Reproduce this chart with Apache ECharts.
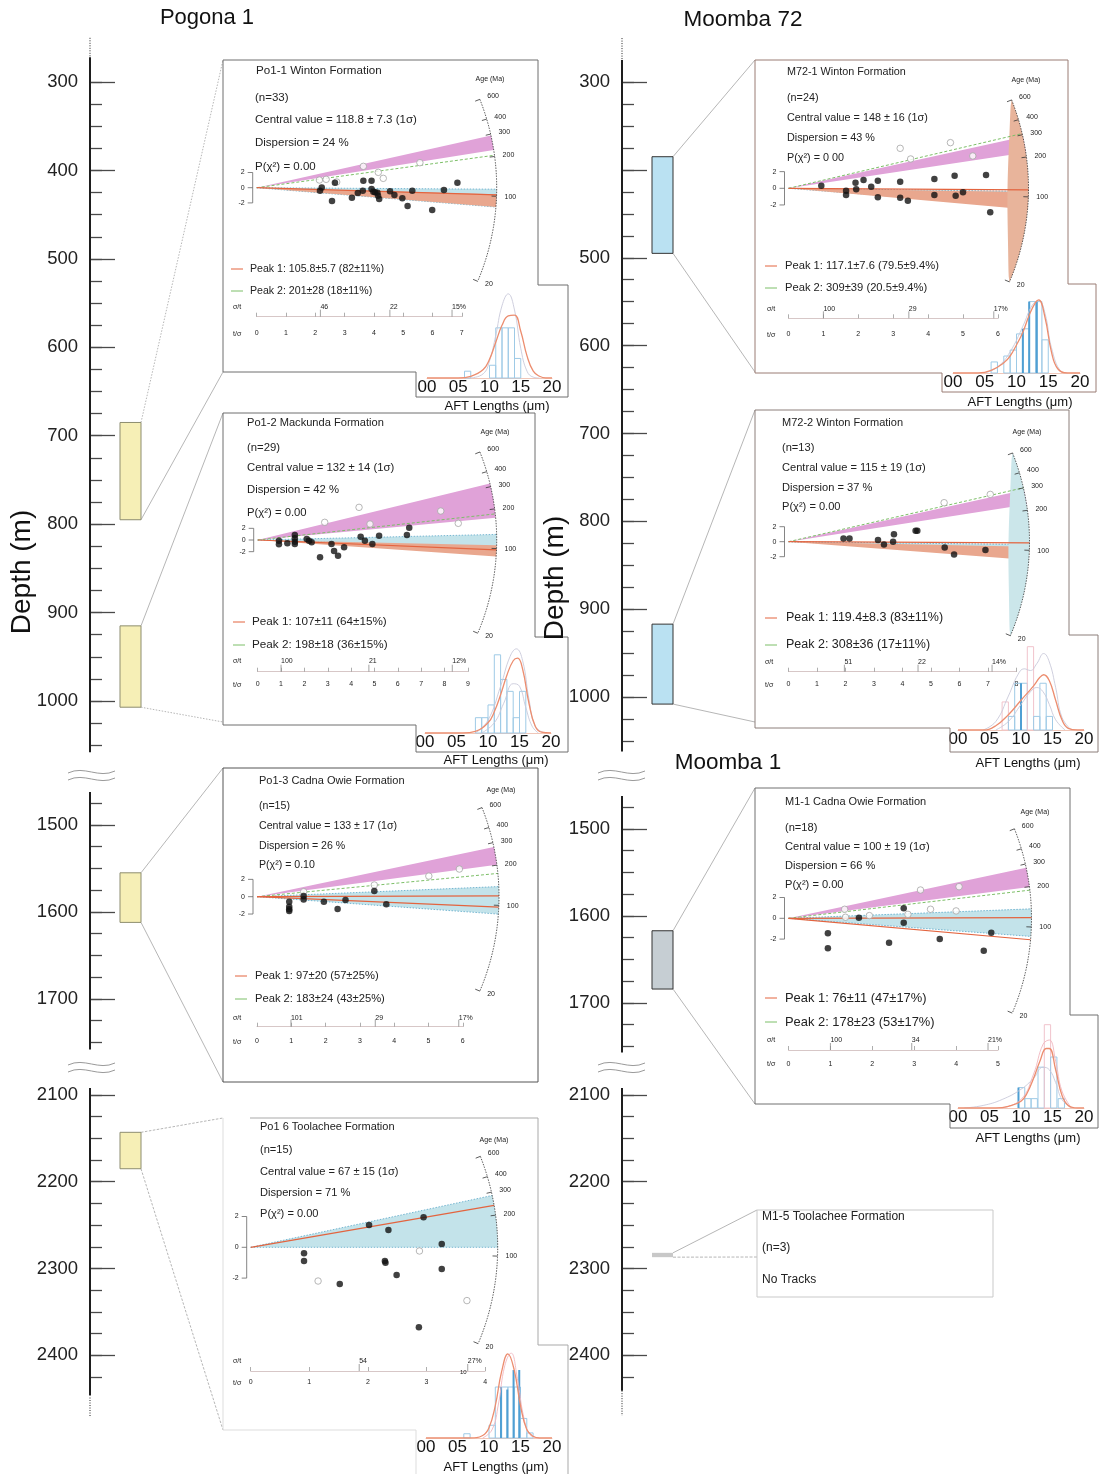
<!DOCTYPE html>
<html>
<head>
<meta charset="utf-8">
<title>AFT radial plots and depth columns</title>
<script src="https://cdn.jsdelivr.net/npm/echarts@6.0.0/dist/echarts.min.js"></script>
<style>
html,body{margin:0;padding:0;background:#ffffff;}
#chart{width:1102px;height:1474px;}
</style>
</head>
<body>
<div id="chart"></div>
<script>
// ======================= DATA =======================
const wellTitles = ['Pogona 1', 'Moomba 72', 'Moomba 1'];
const depthAxisName = 'Depth (m)';
const histAxisName = 'AFT Lengths (\u03bcm)';
const histTickLabels = ['00', '05', '10', '15', '20'];
const arcAgeLabels = [600, 400, 300, 200, 100, 20];

// depth ticks / labels
const depthTicksUpper = [300,325,350,375,400,425,450,475,500,525,550,575,600,625,650,675,700,725,750,775,800,825,850,875,900,925,950,975,1000,1025,1050];
const depthMajorUpper = [300,400,500,600,700,800,900,1000];
const depthLabelsPogonaUpper = [300,400,500,600,700,800,900,1000];
const depthLabelsMoombaUpper = [300,500,600,700,800,900,1000];
const depthTicksMiddle = [1475,1500,1525,1550,1575,1600,1625,1650,1675,1700,1725,1750];
const depthMajorMiddle = [1500,1600,1700];
const depthTicksLower = [2100,2125,2150,2175,2200,2225,2250,2275,2300,2325,2350,2375,2400,2425];
const depthMajorLower = [2100,2200,2300,2400];

// samples (depth intervals, m)
const pogonaSampleIds = ['Po1-1', 'Po1-2', 'Po1-3', 'Po1-6'];
const pogonaSampleTop = [685, 915, 1555, 2143];
const pogonaSampleBase = [795, 1007, 1612, 2185];
const moombaSampleIds = ['M72-1', 'M72-2', 'M1-1', 'M1-5'];
const moombaSampleTop = [385, 917, 1617, 2282];
const moombaSampleBase = [495, 1008, 1684, 2287];

// ---- Po1-1 ----
const po11Text = ['Po1-1 Winton Formation', '(n=33)', 'Central value = 118.8 \u00b1 7.3 (1\u03c3)', 'Dispersion = 24 %', 'P(\u03c7\u00b2) = 0.00'];
const po11Peaks = ['Peak 1: 105.8\u00b15.7 (82\u00b111%)', 'Peak 2: 201\u00b128 (18\u00b111%)'];
const po11Ref = 118.8;
const po11Pink = [219, 280];
const po11Blue = [87, 116];
const po11Orange = [87, 107];
const po11Green = 201;
const po11Red = [105.8];
const po11SigmaT = [46, 22, 15];
const po11Filled = [[2.16,-0.39],[2.22,0.04],[2.57,-1.75],[2.67,0.66],[3.25,-1.32],[3.45,-0.70],[3.62,-0.39],[3.64,0.92],[3.92,0.92],[3.92,-0.18],[3.98,-0.53],[4.04,-0.61],[4.12,-0.66],[4.14,-1.05],[4.18,-1.49],[4.55,-0.48],[4.70,-0.96],[4.97,-1.40],[5.15,-2.41],[5.31,-0.39],[5.99,-2.94],[6.39,-0.31],[6.85,0.66]];
const po11Open = [[2.14,1.01],[2.37,1.10],[2.73,0.75],[3.64,2.81],[4.15,2.02],[4.32,1.23],[5.57,3.29]];
const po11Bins = [[6,0.08,0],[10,0.15,0],[11,0.59,0],[12,0.59,0],[13,0.59,0],[14,0.23,0]];
const po11Strong = [];
const po11CurveA = [[0,0],[5,0],[7,0.02],[9,0.1],[10,0.22],[11,0.42],[12,0.62],[13,0.73],[14,0.74],[15,0.55],[16,0.26],[17,0.08],[18,0.02],[19,0],[20,0]];
const po11CurveB = [[7,0],[9,0.05],[10,0.2],[11,0.5],[12,0.85],[13,0.99],[14,0.8],[15,0.35],[16,0.08],[17,0.01],[18,0]];

// ---- Po1-2 ----
const po12Text = ['Po1-2 Mackunda Formation', '(n=29)', 'Central value = 132 \u00b1 14 (1\u03c3)', 'Dispersion = 42 %', 'P(\u03c7\u00b2) = 0.00'];
const po12Peaks = ['Peak 1: 107\u00b111 (64\u00b115%)', 'Peak 2: 198\u00b118 (36\u00b115%)'];
const po12Ref = 132;
const po12Pink = [192, 350];
const po12Blue = [116, 145];
const po12Orange = [100, 121];
const po12Green = 205;
const po12Red = [112];
const po12SigmaT = [100, 21, 12];
const po12Filled = [[0.91,-0.11],[0.91,-0.74],[1.27,-0.57],[1.59,0.86],[1.59,0.29],[1.59,-0.29],[1.59,-0.69],[2.10,0.17],[2.20,-0.11],[2.31,-0.40],[2.67,-2.97],[3.16,-0.69],[3.27,-1.89],[3.44,-2.69],[3.70,-1.26],[4.41,0.57],[4.59,-0.11],[4.91,-0.69],[5.20,0.74],[6.39,0.86],[6.49,2.11]];
const po12Open = [[2.87,3.03],[4.34,5.6],[4.81,2.74],[7.84,4.97],[8.59,2.86]];
const po12Bins = [[8,0.18,0],[9,0.18,0],[10,0.33,0],[11,0.92,0],[12,0.63,0],[13,0.49,0],[14,0.18,0],[15,0.49,0]];
const po12Strong = [];
const po12CurveA = [[0,0],[6,0],[8,0.02],[10,0.12],[11,0.25],[12,0.45],[13,0.68],[14,0.85],[14.7,0.88],[15.5,0.75],[16.5,0.35],[17.5,0.08],[18.5,0.01],[20,0]];
const po12CurveB = [[8,0],[10,0.15],[12,0.55],[13.5,0.9],[14.5,0.99],[15.5,0.85],[16.5,0.4],[17.5,0.08],[19,0]];
const po12CurveC = [[9,0],[11,0.12],[12.5,0.35],[14,0.58],[15,0.55],[16,0.3],[17,0.08],[18,0]];

// ---- Po1-3 ----
const po13Text = ['Po1-3 Cadna Owie Formation', '(n=15)', 'Central value = 133 \u00b1 17 (1\u03c3)', 'Dispersion = 26 %', 'P(\u03c7\u00b2) = 0.10'];
const po13Peaks = ['Peak 1: 97\u00b120 (57\u00b125%)', 'Peak 2: 183\u00b124 (43\u00b125%)'];
const po13Ref = 133;
const po13Pink = [225, 305];
const po13Blue = [100, 157];
const po13Green = 195;
const po13Red = [135, 112];
const po13SigmaT = [101, 29, 17];
const po13Filled = [[0.94,-0.58],[0.94,-1.15],[0.94,-1.46],[0.94,-1.65],[1.36,0.08],[1.36,-0.31],[1.95,-0.58],[2.35,-1.42],[2.58,-0.38],[3.42,0.65],[3.77,-0.88]];
const po13Open = [[1.36,0.58],[3.42,1.35],[5.01,2.38],[5.90,3.19]];

// ---- Po1-6 ----
const po16Text = ['Po1 6 Toolachee Formation', '(n=15)', 'Central value = 67 \u00b1 15 (1\u03c3)', 'Dispersion = 71 %', 'P(\u03c7\u00b2) = 0.00'];
const po16Ref = 121;
const po16Blue = [121, 274];
const po16Red = [233];
const po16SigmaT = [54, 27];
const po16Filled = [[0.91,-0.39],[0.91,-0.89],[1.52,-2.38],[2.02,1.45],[2.29,-0.89],[2.30,-1.0],[2.35,1.13],[2.49,-1.80],[2.95,1.95],[2.87,-5.19],[3.26,0.22],[3.26,-1.41]];
const po16Open = [[1.15,-2.19],[2.88,-0.24],[3.69,-3.46]];
const po16Bins = [[6,0.05,0],[10,0.15,0],[11,0.6,0],[12,0.6,0],[13,0.6,0],[14,0.6,0],[15,0.23,0],[16,0.06,0]];
const po16Strong = [[11.9,0.6],[12.9,0.57],[13.9,0.8],[14.8,0.8]];
const po16CurveA = [[0,0],[7,0],[9,0.03],[10,0.12],[11,0.38],[12,0.78],[13,0.99],[14,0.8],[15,0.38],[16,0.1],[17,0.02],[18,0],[20,0]];
const po16CurveB = [[9,0],[10.5,0.1],[11.5,0.4],[12.5,0.85],[13.5,1.0],[14.5,0.7],[15.5,0.25],[16.5,0.04],[18,0]];

// ---- M72-1 ----
const m721Text = ['M72-1 Winton Formation', '(n=24)', 'Central value = 148 \u00b1 16 (1\u03c3)', 'Dispersion = 43 %', 'P(\u03c7\u00b2) = 0 00'];
const m721Peaks = ['Peak 1: 117.1\u00b17.6 (79.5\u00b19.4%)', 'Peak 2: 309\u00b139 (20.5\u00b19.4%)'];
const m721Ref = 148;
const m721Pink = [279, 372];
const m721Blue = [107, 140];
const m721Orange = [102, 139];
const m721Green = 395;
const m721Red = [144];
const m721SigmaT = [100, 29, 17];
const m721Filled = [[0.94,0.32],[1.65,-0.28],[1.65,-0.8],[1.92,0.68],[1.94,-0.12],[2.15,1.0],[2.37,0.2],[2.56,0.92],[2.56,-1.08],[3.20,0.8],[3.20,-1.12],[3.42,-1.48],[4.18,1.12],[4.18,-0.8],[4.76,1.52],[4.79,-0.88],[5.0,-0.48],[5.66,1.6],[5.78,-2.88]];
const m721Open = [[3.20,4.8],[3.50,3.52],[4.64,5.48],[5.28,3.88]];
const m721Bins = [[6,0.13,0],[8,0.2,0],[9,0.27,0],[10,0.46,0],[11,0.52,0],[12,0.84,0],[13,0.84,0],[14,0.39,0]];
const m721Strong = [[11,0.52],[12,0.84],[13.2,0.84]];
const m721CurveA = [[0,0],[4,0],[6,0.03],[8,0.12],[9,0.2],[10,0.33],[11,0.48],[12,0.68],[13,0.83],[13.5,0.86],[14.5,0.65],[15.5,0.25],[16.5,0.05],[18,0],[20,0]];
const m721CurveB = [[5,0],[7,0.07],[9,0.25],[11,0.55],[12.5,0.8],[13.5,0.85],[14.5,0.7],[15.5,0.3],[17,0.02],[18,0]];

// ---- M72-2 ----
const m722Text = ['M72-2 Winton Formation', '(n=13)', 'Central value = 115 \u00b1 19 (1\u03c3)', 'Dispersion = 37 %', 'P(\u03c7\u00b2) = 0.00'];
const m722Peaks = ['Peak 1: 119.4\u00b18.3 (83\u00b111%)', 'Peak 2: 308\u00b136 (17\u00b111%)'];
const m722Ref = 115;
const m722Pink = [208, 265];
const m722Blue = [100, 110];
const m722Orange = [86, 106];
const m722Green = 275;
const m722Red = [113];
const m722SigmaT = [51, 22, 14];
const m722Filled = [[1.93,0.44],[2.14,0.44],[3.14,0.22],[3.35,-0.36],[3.67,0],[3.70,0.98],[4.46,1.47],[4.52,1.47],[5.48,-0.76],[5.81,-1.69],[6.91,-1.11]];
const m722Open = [[5.46,5.2],[7.08,6.31]];
const m722Bins = [[7,0.33,1],[8,0.16,0],[9,0.55,0],[10,0.55,0],[11,0.98,1],[12,0.16,0],[13,0.55,0],[14,0.16,0]];
const m722Strong = [[10,0.55]];
const m722CurveA = [[0,0],[4,0],[6,0.05],[8,0.18],[10,0.35],[12,0.52],[13,0.62],[13.6,0.65],[14.5,0.58],[15.5,0.35],[16.5,0.12],[17.5,0.02],[19,0],[20,0]];
const m722CurveB = [[4,0],[6,0.1],[8,0.4],[9.5,0.65],[10.5,0.72],[11.5,0.7],[12.5,0.78],[13.6,0.9],[14.5,0.8],[15.5,0.5],[16.5,0.15],[18,0]];
const m722CurveC = [[6,0],[8,0.1],[10,0.3],[11.5,0.45],[12.5,0.5],[13.5,0.45],[14.5,0.3],[15.5,0.12],[17,0]];

// ---- M1-1 ----
const m11Text = ['M1-1 Cadna Owie Formation', '(n=18)', 'Central value = 100 \u00b1 19 (1\u03c3)', 'Dispersion = 66 %', 'P(\u03c7\u00b2) = 0.00'];
const m11Peaks = ['Peak 1: 76\u00b111 (47\u00b117%)', 'Peak 2: 178\u00b123 (53\u00b117%)'];
const m11Ref = 100;
const m11Pink = [169, 236];
const m11Blue = [74, 117];
const m11Green = 160;
const m11Red = [101, 70];
const m11SigmaT = [100, 34, 21];
const m11Filled = [[0.94,-1.44],[0.94,-2.88],[1.68,0.06],[2.40,-2.34],[2.75,0.96],[2.75,-0.42],[3.61,-1.99],[4.66,-3.11],[4.84,-1.38]];
const m11Open = [[1.34,0.87],[1.36,0.1],[1.93,0.26],[2.85,0.38],[3.39,0.87],[4.0,0.71],[3.15,2.72],[4.07,3.04]];
const m11Bins = [[9.6,0.24,0],[10.6,0.11,0],[11.6,0.11,0],[12.7,0.48,0],[13.7,0.98,1],[14.7,0.6,0],[15.9,0.11,0]];
const m11Strong = [[9.6,0.24]];
const m11CurveA = [[0,0],[6,0],[8,0.02],[10,0.08],[11,0.18],[12,0.35],[13,0.55],[14,0.7],[14.5,0.7],[15.5,0.45],[16.5,0.15],[17.5,0.03],[19,0],[20,0]];
const m11CurveB = [[1,0],[4,0.03],[7,0.1],[10,0.22],[12,0.35],[13.5,0.48],[14.5,0.45],[15.5,0.3],[16.5,0.1],[18,0]];
const m11CurveC = [[7,0],[10,0.1],[12,0.4],[13.5,0.75],[14.5,0.8],[15.5,0.55],[16.5,0.2],[18,0]];

// ---- M1-5 ----
const m15Text = ['M1-5 Toolachee Formation', '(n=3)', 'No Tracks'];

// ======================= LAYOUT =======================
const FF = "'Liberation Sans', Arial, Helvetica, sans-serif";
const C = {pink:'#e0a2d8', blue:'#c3e3ea', orange:'#e9a78e', red:'#e3643f', green:'#7dbf68', blueEdge:'#5aa7c8'};
// age-scale arc drawn in screen space: tan(angle) = ARC_K * ln(t / ARC_REF)
const ARC_K = 0.241, ARC_REF = 116;

const leftAxisX = 90, rightAxisX = 622;
const leftSegs = [
  {min:250, max:1058, top:37.8, ppm:0.8843, line:[[250,272,1],[272,1058,0]], ticks:depthTicksUpper, majors:depthMajorUpper, labels:depthLabelsPogonaUpper},
  {min:1462, max:1758, top:791.9, ppm:0.87, line:[[1462,1758,0]], ticks:depthTicksMiddle, majors:depthMajorMiddle, labels:depthMajorMiddle},
  {min:2092, max:2472, top:1088.1, ppm:0.867, line:[[2092,2446,0],[2446,2472,1]], ticks:depthTicksLower, majors:depthMajorLower, labels:depthMajorLower}
];
const rightSegs = [
  {min:250, max:1062, top:38.1, ppm:0.8786, line:[[250,275,1],[275,1062,0]], ticks:depthTicksUpper, majors:depthMajorUpper, labels:depthLabelsMoombaUpper},
  {min:1462, max:1757, top:795.9, ppm:0.87, line:[[1462,1757,0]], ticks:depthTicksMiddle, majors:depthMajorMiddle, labels:depthMajorMiddle},
  {min:2092, max:2472, top:1088.1, ppm:0.867, line:[[2092,2441,0],[2441,2470,1]], ticks:depthTicksLower, majors:depthMajorLower, labels:depthMajorLower}
];
const pogonaLinks = [[[223,60],[223,372],[1.5,0]], [[223,413],[223,722],[0,1.5]], [[223,768],[223,1082],[0,0]], [[223,1118],[223,1430],[2.5,2.5]]];
const moombaLinks = [[[755,60],[755,372],[0,0]], [[755,410],[755,722],[0,0]], [[755,788],[755,1104],[0,0]], [[757,1210],[757,1257],[0,3]]];
const pogonaRectStyle = [{fill:'#f6efb6', stroke:'#8d8d70'},{fill:'#f6efb6', stroke:'#8d8d70'},{fill:'#f6efb6', stroke:'#8d8d70'},{fill:'#f6efb6', stroke:'#8d8d70'}];
const moombaRectStyle = [{fill:'#bae1f2', stroke:'#333'},{fill:'#bae1f2', stroke:'#333'},{fill:'#c6ced3', stroke:'#333'},{fill:'#c8c8c8', stroke:null}];

const L_po11 = {ox:256.7, oy:187.7, sx:29.3, sy:7.6, R:240, tMax:7, scaleY:316.7, sigLabelY:307.3, tLabelY:333.7, rowX:233,
  titleX:256, titleY:71, titleFont:11.6, statX:255, statY:[98,120,143,167], statFont:11.5, legLineX:231, legTextX:250, legY:[269,291], legFont:10.6, ageX:490, ageY:79,
  hist:{x0:427, x20:552, base:378, h:85, nameX:497, nameY:406},
  box:[[223,60],[538,60],[538,285],[568,285],[568,397],[416,397],[416,372],[223,372],[223,60]], boxColor:'#6e6e6e'};
const L_po12 = {ox:257.7, oy:540, sx:23.35, sy:5.83, R:239, tMax:9, scaleY:671.7, sigLabelY:661, tLabelY:685, rowX:233,
  titleX:247, titleY:423, titleFont:11.1, statX:247, statY:[448,468,490,513], statFont:11.3, legLineX:233, legTextX:252, legY:[622,645], legFont:11.7, ageX:495, ageY:432,
  hist:{x0:425, x20:551, base:733, h:85, nameX:496, nameY:760},
  box:[[223,413],[535,413],[535,637],[568,637],[568,752],[416,752],[416,725],[223,725],[223,413]], boxColor:'#6e6e6e'};
const L_po13 = {ox:257, oy:896.7, sx:34.3, sy:8.67, R:242, tMax:6, scaleY:1026.7, sigLabelY:1018, tLabelY:1042, rowX:233,
  titleX:259, titleY:781, titleFont:11, statX:259, statY:[805.7,826,846,865], statFont:10.6, legLineX:235, legTextX:255, legY:[976,999], legFont:11.2, ageX:501, ageY:790,
  hist:null, box:[[223,768],[538,768],[538,1082],[223,1082],[223,768]], boxColor:'#555'};
const L_po16 = {ox:250.7, oy:1247.3, sx:58.6, sy:15.4, R:247, tMax:4, scaleY:1371, sigLabelY:1361, tLabelY:1382.7, rowX:233,
  titleX:260, titleY:1127, titleFont:11, statX:260, statY:[1150,1172,1193,1214], statFont:11.1, legLineX:0, legTextX:0, legY:[], legFont:10.5, ageX:494, ageY:1140,
  hist:{x0:426, x20:552, base:1438, h:85, nameX:496, nameY:1467},
  box:[[250,1118],[538,1118],[538,1345],[568,1345],[568,1474]], boxColor:'#a9a9a9',
  box2:[[223,1118],[223,1430],[416,1430],[416,1474]], box2Color:'#dddddd'};
const L_m721 = {ox:788.5, oy:188.3, sx:34.9, sy:8.33, R:240, tMax:6, scaleY:318.3, sigLabelY:309, tLabelY:335, rowX:767,
  titleX:787, titleY:72, titleFont:10.8, statX:787, statY:[98,118,138,158], statFont:10.8, legLineX:765, legTextX:785, legY:[266,288], legFont:11.2, ageX:1026, ageY:80,
  hist:{x0:953, x20:1080, base:373, h:85, nameX:1020, nameY:402},
  box:[[755,60],[1068,60],[1068,284],[1096,284],[1096,392],[942,392],[942,373],[755,373],[755,60]], boxColor:'#9a7d74'};
const L_m722 = {ox:788.5, oy:541.7, sx:28.5, sy:7.5, R:241, tMax:8, scaleY:671.7, sigLabelY:662.3, tLabelY:685, rowX:765,
  titleX:782, titleY:423, titleFont:11, statX:782, statY:[448,468,488,507], statFont:11.1, legLineX:765, legTextX:786, legY:[618,645], legFont:12.5, ageX:1027, ageY:432,
  hist:{x0:958, x20:1084, base:730, h:85, nameX:1028, nameY:763},
  box:[[755,410],[1069,410],[1069,635],[1098,635],[1098,752],[950,752],[950,728],[755,728],[755,410]], boxColor:'#8c7f7b'};
const L_m11 = {ox:788.5, oy:918.3, sx:41.9, sy:10.4, R:243, tMax:5, scaleY:1050, sigLabelY:1040, tLabelY:1064.3, rowX:767,
  titleX:785, titleY:802, titleFont:11, statX:785, statY:[828,847,866,885], statFont:11.1, legLineX:765, legTextX:785, legY:[998,1022], legFont:12.9, ageX:1035, ageY:812,
  hist:{x0:958, x20:1084, base:1108, h:85, nameX:1028, nameY:1138},
  box:[[755,788],[1070,788],[1070,1015],[1098,1015],[1098,1128],[950,1128],[950,1104],[755,1104],[755,788]], boxColor:'#707070'};

const radialPanels = [
  {L:L_po11, text:po11Text, peaks:po11Peaks, ref:po11Ref, pink:po11Pink, blue:po11Blue, orange:po11Orange, green:po11Green, red:po11Red, sigmaT:po11SigmaT, filled:po11Filled, open:po11Open, lens:null,
   bins:po11Bins, strong:po11Strong, curves:[[po11CurveB,'#c9c9da',0.9],[po11CurveA,'#ec8d6f',1.3]]},
  {L:L_po12, text:po12Text, peaks:po12Peaks, ref:po12Ref, pink:po12Pink, blue:po12Blue, orange:po12Orange, green:po12Green, red:po12Red, sigmaT:po12SigmaT, filled:po12Filled, open:po12Open, lens:null,
   bins:po12Bins, strong:po12Strong, curves:[[po12CurveB,'#c9c9da',0.9],[po12CurveC,'#c9c9da',0.9],[po12CurveA,'#ec8d6f',1.3]]},
  {L:L_po13, text:po13Text, peaks:po13Peaks, ref:po13Ref, pink:po13Pink, blue:po13Blue, orange:null, green:po13Green, red:po13Red, sigmaT:po13SigmaT, filled:po13Filled, open:po13Open, lens:null,
   bins:null, strong:null, curves:[]},
  {L:L_po16, text:po16Text, peaks:[], ref:po16Ref, pink:null, blue:po16Blue, orange:null, green:null, red:po16Red, sigmaT:po16SigmaT, filled:po16Filled, open:po16Open, lens:null,
   bins:po16Bins, strong:po16Strong, curves:[[po16CurveB,'#f0b7bf',0.9],[po16CurveA,'#ec8d6f',1.3]]},
  {L:L_m721, text:m721Text, peaks:m721Peaks, ref:m721Ref, pink:m721Pink, blue:m721Blue, orange:m721Orange, green:m721Green, red:m721Red, sigmaT:m721SigmaT, filled:m721Filled, open:m721Open, lens:'orange',
   bins:m721Bins, strong:m721Strong, curves:[[m721CurveB,'#c9c9da',0.9],[m721CurveA,'#ec8d6f',1.3]]},
  {L:L_m722, text:m722Text, peaks:m722Peaks, ref:m722Ref, pink:m722Pink, blue:m722Blue, orange:m722Orange, green:m722Green, red:m722Red, sigmaT:m722SigmaT, filled:m722Filled, open:m722Open, lens:'blue',
   bins:m722Bins, strong:m722Strong, curves:[[m722CurveB,'#c9c9da',0.9],[m722CurveC,'#c9c9da',0.9],[m722CurveA,'#ec8d6f',1.3]]},
  {L:L_m11, text:m11Text, peaks:m11Peaks, ref:m11Ref, pink:m11Pink, blue:m11Blue, orange:null, green:m11Green, red:m11Red, sigmaT:m11SigmaT, filled:m11Filled, open:m11Open, lens:null,
   bins:m11Bins, strong:m11Strong, curves:[[m11CurveB,'#c9c9da',0.9],[m11CurveC,'#f0b7bf',0.9],[m11CurveA,'#ec8d6f',1.3]]}
];

// ======================= BUILD =======================
const grids = [], xAxes = [], yAxes = [], series = [], graphics = [];

function tStyle(s, size, color, align, va) {
  return {text:s, fill:color || '#222', fontSize:size, fontFamily:FF,
    align:align || 'left', verticalAlign:va || 'middle', textAlign:align || 'left', textVerticalAlign:va || 'middle'};
}
function gText(x, y, s, size, opt) {
  opt = opt || {};
  graphics.push({type:'text', x:x, y:y, rotation:opt.rot || 0, silent:true, z:50,
    style:tStyle(s, size, opt.color, opt.align, opt.va)});
}
function gPoly(points, color, width, dash) {
  graphics.push({type:'polyline', silent:true, z:40, shape:{points:points},
    style:{stroke:color, fill:null, lineWidth:width || 1, lineDash:dash || null}});
}
function gLine(x1, y1, x2, y2, color, width, dash) {
  graphics.push({type:'line', silent:true, z:40, shape:{x1:x1, y1:y1, x2:x2, y2:y2},
    style:{stroke:color, lineWidth:width || 1, lineDash:dash || null}});
}
function gWave(x1, x2, y) {
  graphics.push({type:'bezierCurve', silent:true, z:40,
    shape:{x1:x1, y1:y + 1, x2:x2, y2:y - 1, cpx1:x1 + (x2 - x1) * 0.35, cpy1:y - 7, cpx2:x1 + (x2 - x1) * 0.65, cpy2:y + 7},
    style:{stroke:'#9a9a9a', lineWidth:1, fill:null}});
}
function elLine(x1, y1, x2, y2, color, width, dash) {
  return {type:'line', shape:{x1:x1, y1:y1, x2:x2, y2:y2}, style:{stroke:color, lineWidth:width, lineDash:dash || null}};
}
function elText(x, y, s, size, align, color) {
  return {type:'text', x:x, y:y, style:tStyle(s, size, color || '#333', align, 'middle')};
}

// ---- depth columns ----
function addDepthSegment(axisX, seg, sampleTop, sampleBase, links, rectStyles) {
  const gi = grids.length;
  grids.push({left:axisX, top:seg.top, width:60, height:(seg.max - seg.min) * seg.ppm});
  const xi = xAxes.length;
  xAxes.push({gridIndex:gi, type:'value', min:0, max:1, show:false});
  const yi = yAxes.length;
  yAxes.push({gridIndex:gi, type:'value', inverse:true, min:seg.min, max:seg.max, position:'left',
    axisLine:{show:false}, splitLine:{show:false},
    axisTick:{show:true, inside:true, length:12, customValues:seg.ticks, lineStyle:{color:'#4a4a4a', width:1.3}},
    axisLabel:{show:true, customValues:seg.labels, fontSize:18.5, color:'#222', margin:12, fontFamily:FF,
      formatter:function (v) { return String(Math.round(v)); }}});
  yAxes.push({gridIndex:gi, type:'value', inverse:true, min:seg.min, max:seg.max, position:'left',
    axisLine:{show:false}, splitLine:{show:false},
    axisTick:{show:true, inside:true, length:25, customValues:seg.majors, lineStyle:{color:'#4a4a4a', width:1.3}},
    axisLabel:{show:false}});
  series.push({type:'custom', coordinateSystem:'cartesian2d', xAxisIndex:xi, yAxisIndex:yi, clip:false, silent:true, z:4,
    data:seg.line,
    renderItem:function (p, api) {
      const a = api.coord([0, api.value(0)]), b = api.coord([0, api.value(1)]);
      const dotted = api.value(2) === 1;
      return {type:'line', shape:{x1:a[0], y1:a[1], x2:b[0], y2:b[1]},
        style:{stroke:'#1e1e1e', lineWidth:dotted ? 1 : 2, lineDash:dotted ? [1, 1.5] : null}};
    }});
  const items = [];
  sampleTop.forEach(function (t, k) {
    if (t >= seg.min && t <= seg.max) items.push([t, sampleBase[k], k]);
  });
  if (items.length) {
    series.push({type:'custom', coordinateSystem:'cartesian2d', xAxisIndex:xi, yAxisIndex:yi, clip:false, silent:true, z:5,
      data:items,
      renderItem:function (p, api) {
        const k = api.value(2);
        const a = api.coord([0, api.value(0)]), b = api.coord([0, api.value(1)]);
        const x0 = a[0] + 30, x1 = a[0] + 51;
        const lk = links[k], st = rectStyles[k];
        return {type:'group', children:[
          elLine(x1, a[1], lk[0][0], lk[0][1], '#a3a3a3', 0.8, lk[2][0] ? [lk[2][0], 1.5] : null),
          elLine(x1, b[1], lk[1][0], lk[1][1], '#a3a3a3', 0.8, lk[2][1] ? [lk[2][1], 1.5] : null),
          {type:'rect', shape:{x:x0, y:a[1], width:x1 - x0, height:Math.max(b[1] - a[1], 3)},
            style:{fill:st.fill, stroke:st.stroke, lineWidth:st.stroke ? 1 : 0}}
        ]};
      }});
  }
}
leftSegs.forEach(function (seg) {
  addDepthSegment(leftAxisX, seg, pogonaSampleTop, pogonaSampleBase, pogonaLinks, pogonaRectStyle);
});
rightSegs.forEach(function (seg) {
  addDepthSegment(rightAxisX, seg, moombaSampleTop, moombaSampleBase, moombaLinks, moombaRectStyle);
});

// ---- radial plots ----
function radialRenderer(D) {
  const L = D.L;
  return function (params, api) {
    const o = api.coord([0, 0]);
    const sx = api.size([1, 0])[0], sy = api.size([0, 1])[1];
    const R = L.R;
    const ang = function (t) { return Math.atan2(-Math.log(t / D.ref) * sy, sx); };
    const arcAng = function (t) { return -Math.atan(ARC_K * Math.log(t / ARC_REF)); };
    const pt = function (a, r) { return [o[0] + r * Math.cos(a), o[1] + r * Math.sin(a)]; };
    const arc = function (a1, a2, r, n) { const out = []; for (let i = 0; i <= n; i++) out.push(pt(a1 + (a2 - a1) * i / n, r)); return out; };
    const kids = [];
    const wedge = function (rg, fill) {
      if (!rg) return;
      kids.push({type:'polygon', shape:{points:[o].concat(arc(ang(rg[1]), ang(rg[0]), R, 30))}, style:{fill:fill}});
    };
    const ray = function (t, stroke, w, dash) {
      const e = pt(ang(t), R);
      kids.push(elLine(o[0], o[1], e[0], e[1], stroke, w, dash));
    };
    wedge(D.pink, C.pink);
    if (D.blue) {
      wedge(D.blue, C.blue);
      ray(D.blue[0], C.blueEdge, 0.8, [1.5, 1.5]);
      ray(D.blue[1], C.blueEdge, 0.8, [1.5, 1.5]);
    }
    wedge(D.orange, C.orange);
    if (D.lens) {
      const a1 = arcAng(600), a2 = arcAng(20), n = 40;
      const outer = arc(a1, a2, R, n), inner = [];
      for (let i = n; i >= 0; i--) inner.push(pt(a1 + (a2 - a1) * i / n, R - 21 * Math.pow(Math.sin(Math.PI * i / n), 0.8)));
      kids.push({type:'polygon', shape:{points:outer.concat(inner)}, style:{fill:D.lens === 'orange' ? '#e8b49b' : '#cbe6ea'}});
    }
    if (D.green) ray(D.green, C.green, 1, [3, 2]);
    (D.red || []).forEach(function (t) { ray(t, C.red, 1.2); });
    // age arc
    kids.push({type:'polyline', shape:{points:arc(arcAng(600), arcAng(20), R, 80)}, style:{stroke:'#333', lineWidth:0.8, lineDash:[1.5, 1.2], fill:null}});
    arcAgeLabels.forEach(function (t) {
      const a = arcAng(t), p1 = pt(a, R - 5), p2 = pt(a, R), pl = pt(a, R + 8);
      kids.push(elLine(p1[0], p1[1], p2[0], p2[1], '#333', 0.8));
      kids.push(elText(pl[0], pl[1], String(t), 7, 'left', '#222'));
    });
    // standardised estimate bracket
    const bx = o[0] - 4;
    kids.push(elLine(bx, o[1] - 2 * sy, bx, o[1] + 2 * sy, '#666', 0.8));
    [2, 0, -2].forEach(function (v) {
      const y = o[1] - v * sy;
      kids.push(elLine(bx - 5, y, bx, y, '#666', 0.8));
      kids.push(elText(bx - 8, y, String(v), 7, 'right', '#222'));
    });
    // sigma/t scale labels
    D.sigmaT.forEach(function (v, i) {
      const x = o[0] + (100 / v) * sx;
      kids.push(elLine(x, L.scaleY, x, L.scaleY - 7, '#8a8a8a', 0.8));
      kids.push(elText(x, L.sigLabelY, String(v) + (i === D.sigmaT.length - 1 ? '%' : ''), 7, 'left', '#222'));
    });
    return {type:'group', children:kids};
  };
}

function addRadial(D) {
  const L = D.L;
  const gi = grids.length;
  const yHalf = 100 / L.sy;
  const gTop = L.oy - 100, gBottom = L.oy + 100;
  grids.push({left:L.ox, top:gTop, width:L.sx * L.tMax, height:gBottom - gTop});
  const xi = xAxes.length, yi = yAxes.length;
  xAxes.push({gridIndex:gi, type:'value', min:0, max:L.tMax, interval:1, position:'bottom', offset:L.scaleY - gBottom,
    axisLine:{show:true, onZero:false, lineStyle:{color:'#cdb9b9', width:0.8}},
    axisTick:{show:true, inside:true, length:4, lineStyle:{color:'#999', width:0.8}},
    axisLabel:{show:true, fontSize:7, color:'#222', margin:L.tLabelY - L.scaleY - 4, fontFamily:FF},
    splitLine:{show:false}});
  yAxes.push({gridIndex:gi, type:'value', min:-yHalf, max:yHalf, show:false});
  series.push({type:'custom', coordinateSystem:'cartesian2d', xAxisIndex:xi, yAxisIndex:yi, clip:false, silent:true, z:3,
    data:[[0, 0]], renderItem:radialRenderer(D)});
  series.push({type:'scatter', xAxisIndex:xi, yAxisIndex:yi, clip:false, silent:true, z:6, data:D.open,
    symbolSize:6.5, itemStyle:{color:'#ffffff', borderColor:'#a5a5a5', borderWidth:1}});
  series.push({type:'scatter', xAxisIndex:xi, yAxisIndex:yi, clip:false, silent:true, z:7, data:D.filled,
    symbolSize:6.5, itemStyle:{color:'#111111'}});

  // texts
  gText(L.titleX, L.titleY, D.text[0], L.titleFont);
  for (let i = 1; i < D.text.length; i++) gText(L.statX, L.statY[i - 1], D.text[i], L.statFont);
  D.peaks.forEach(function (s, i) {
    gLine(L.legLineX, L.legY[i], L.legLineX + 12, L.legY[i], i === 0 ? C.red : C.green, 1);
    gText(L.legTextX, L.legY[i], s, L.legFont);
  });
  gText(L.ageX, L.ageY, 'Age (Ma)', 7, {align:'center'});
  gText(L.rowX, L.sigLabelY, '\u03c3/t', 7);
  gText(L.rowX, L.tLabelY, 't/\u03c3', 7);
  gPoly(L.box, L.boxColor, 1);
  if (L.box2) gPoly(L.box2, L.box2Color, 1);

  // histogram
  if (L.hist && D.bins) {
    const H = L.hist;
    const hg = grids.length;
    grids.push({left:H.x0, top:H.base - H.h, width:H.x20 - H.x0, height:H.h});
    const hx = xAxes.length, hy = yAxes.length;
    xAxes.push({gridIndex:hg, type:'value', min:0, max:20, interval:5,
      axisLine:{show:true, onZero:false, lineStyle:{color:'#f0c7b9', width:1}}, axisTick:{show:false}, splitLine:{show:false},
      axisLabel:{show:true, fontSize:17, color:'#111', margin:1, fontFamily:FF,
        formatter:function (v) { return histTickLabels[Math.round(v / 5)]; }}});
    yAxes.push({gridIndex:hg, type:'value', min:0, max:1, show:false});
    series.push({type:'custom', coordinateSystem:'cartesian2d', xAxisIndex:hx, yAxisIndex:hy, clip:false, silent:true, z:3,
      data:D.bins,
      renderItem:function (p, api) {
        const s = api.value(0), h = api.value(1), k = api.value(2);
        const p0 = api.coord([s, 0]), p1 = api.coord([s + 1, h]);
        return {type:'rect', shape:{x:p0[0], y:p1[1], width:p1[0] - p0[0], height:p0[1] - p1[1]},
          style:{fill:null, stroke:k === 1 ? '#f1c3cc' : '#9ecae6', lineWidth:1}};
      }});
    if (D.strong && D.strong.length) {
      series.push({type:'custom', coordinateSystem:'cartesian2d', xAxisIndex:hx, yAxisIndex:hy, clip:false, silent:true, z:4,
        data:D.strong,
        renderItem:function (p, api) {
          const a = api.coord([api.value(0), 0]), b = api.coord([api.value(0), api.value(1)]);
          return elLine(a[0], a[1], b[0], b[1], '#4f9fd3', 2);
        }});
    }
    D.curves.forEach(function (c) {
      series.push({type:'line', xAxisIndex:hx, yAxisIndex:hy, data:c[0], smooth:0.45, symbol:'none', silent:true, z:5,
        lineStyle:{color:c[1], width:c[2]}});
    });
    gText(H.nameX, H.nameY, histAxisName, 13, {align:'center', color:'#111'});
  }
}
radialPanels.forEach(addRadial);

// ---- M1-5 (no tracks) ----
gPoly([[757,1210],[993,1210],[993,1297],[757,1297],[757,1210]], '#c9c9c9', 1);
gText(762, 1217, m15Text[0], 12);
gText(762, 1248, m15Text[1], 12);
gText(762, 1280, m15Text[2], 12);
gText(460, 1372, '10', 6);

// ---- titles, axis names, breaks ----
gText(207, 18, wellTitles[0], 22, {align:'center', color:'#111'});
gText(743, 20, wellTitles[1], 22.5, {align:'center', color:'#111'});
gText(728, 763, wellTitles[2], 22.5, {align:'center', color:'#111'});
gText(22, 572, depthAxisName, 28, {align:'center', color:'#111', rot:Math.PI / 2});
gText(555, 578, depthAxisName, 28, {align:'center', color:'#111', rot:Math.PI / 2});
[[68,115],[598,645]].forEach(function (xs) {
  gWave(xs[0], xs[1], 772); gWave(xs[0], xs[1], 779);
  gWave(xs[0], xs[1], 1064); gWave(xs[0], xs[1], 1071);
});

const chart = echarts.init(document.getElementById('chart'), null, {renderer:'canvas'});
chart.setOption({
  animation:false,
  backgroundColor:'#ffffff',
  textStyle:{fontFamily:FF},
  grid:grids, xAxis:xAxes, yAxis:yAxes, series:series,
  graphic:{elements:graphics}
});
</script>
</body>
</html>
